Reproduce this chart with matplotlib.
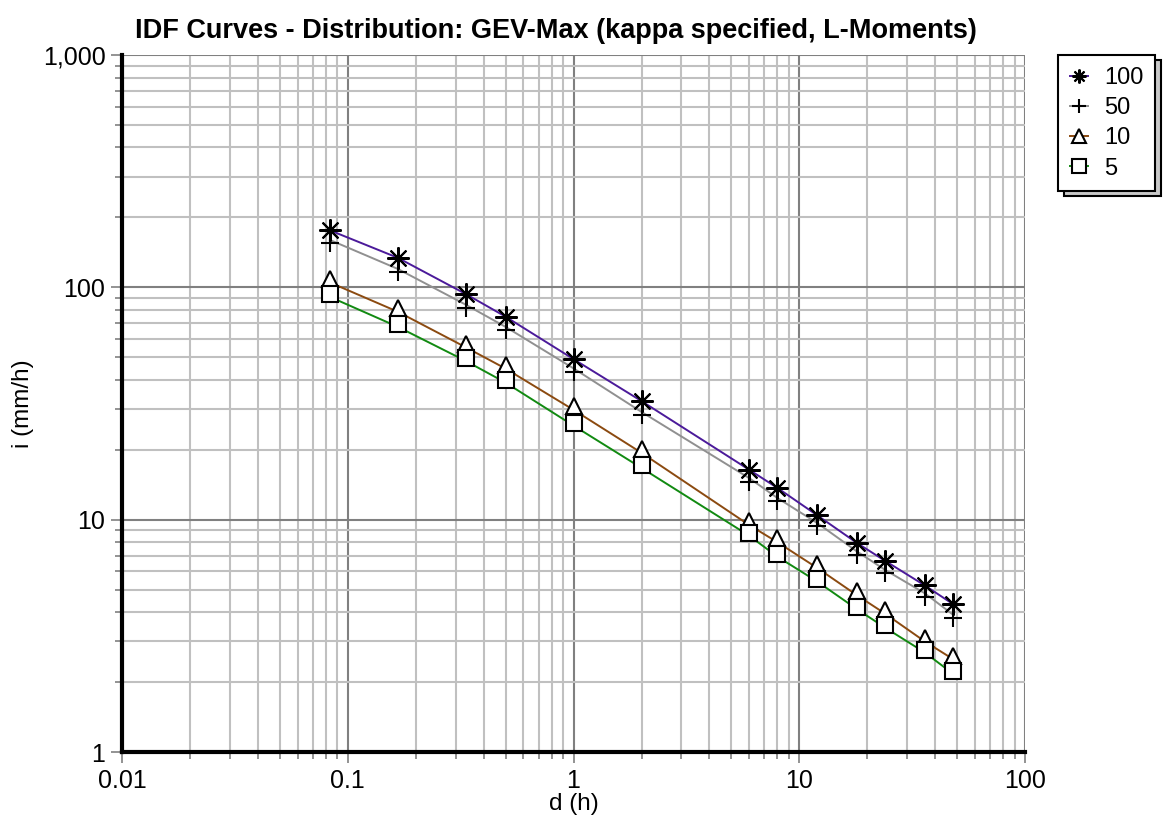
import matplotlib
matplotlib.use('Agg')
import matplotlib.pyplot as plt
from matplotlib.ticker import LogLocator, NullFormatter, FuncFormatter
from matplotlib.lines import Line2D
import matplotlib.patches as mpatches

plt.rcParams['font.family'] = ['Liberation Sans', 'DejaVu Sans']

# durations (h): 5, 10, 20, 30 min, 1, 2, 6, 8, 12, 18, 24, 36, 48 h
durations = [0.0833, 0.1667, 0.3333, 0.5, 1, 2, 6, 8, 12, 18, 24, 36, 48]

# observed points (markers)
pts_100 = [176, 134, 93.6, 74.8, 49.1, 32.4, 16.4, 13.7, 10.45, 7.94, 6.65, 5.21, 4.33]
pts_50 = [155, 116, 81.5, 65.5, 43.4, 28.2, 14.6, 12.0, 9.37, 7.07, 5.89, 4.67, 3.77]
pts_10 = [109, 81.5, 57.3, 46.4, 30.8, 20.1, 9.84, 8.3, 6.44, 4.91, 4.09, 3.10, 2.60]
pts_5 = [93.5, 69.5, 49.5, 40.0, 26.1, 17.2, 8.77, 7.12, 5.57, 4.23, 3.52, 2.75, 2.23]

# fitted IDF curves (lines)
crv_100 = [176, 134, 93.6, 74.8, 49.1, 32.4, 16.4, 13.7, 10.45, 7.94, 6.65, 5.21, 4.33]
crv_50 = [160, 120, 84.2, 67.6, 44.8, 29.1, 15.1, 12.4, 9.68, 7.30, 6.08, 4.82, 3.90]
crv_10 = [105, 78.5, 55.2, 44.7, 29.7, 19.4, 9.48, 8.0, 6.20, 4.73, 3.94, 2.99, 2.51]
crv_5 = [91.0, 67.6, 48.2, 38.9, 25.4, 16.7, 8.53, 6.93, 5.42, 4.12, 3.43, 2.68, 2.17]

labels = ['100', '50', '10', '5']
line_colors = ['#4B1A9A', '#909090', '#8B4A10', '#118A11']

fig = plt.figure(figsize=(11.68, 8.34), dpi=100)
ax = fig.add_axes([0.1045, 0.0983, 0.7731, 0.8357])

series = [
    (crv_100, pts_100, dict(marker=(8, 2, 0), markersize=16, markeredgewidth=1.5)),
    (crv_50, pts_50, dict(marker='+', markersize=13, markeredgewidth=1.5)),
    (crv_10, pts_10, dict(marker='^', markersize=11, markeredgewidth=1.5, markerfacecolor='white')),
    (crv_5, pts_5, dict(marker='s', markersize=11, markeredgewidth=1.5, markerfacecolor='white')),
]

for (crv, pts, mk), col in zip(series, line_colors):
    ax.plot(durations, crv, color=col, lw=1.4, zorder=3)
for (crv, pts, mk), col in zip(series, line_colors):
    ax.plot(durations, pts, linestyle='none', color='black', markeredgecolor='black', zorder=4, **mk)

ax.set_xscale('log')
ax.set_yscale('log')
ax.set_xlim(0.01, 100)
ax.set_ylim(1, 1000)

ax.xaxis.set_major_locator(LogLocator(base=10))
ax.xaxis.set_minor_locator(LogLocator(base=10, subs=range(2, 10)))
ax.yaxis.set_major_locator(LogLocator(base=10))
ax.yaxis.set_minor_locator(LogLocator(base=10, subs=range(2, 10)))
ax.xaxis.set_minor_formatter(NullFormatter())
ax.yaxis.set_minor_formatter(NullFormatter())
ax.xaxis.set_major_formatter(FuncFormatter(lambda v, p: ('%g' % v)))
ax.yaxis.set_major_formatter(FuncFormatter(lambda v, p: '{:,.0f}'.format(v)))

ax.grid(which='minor', color='#C0C0C0', lw=1.5, zorder=0)
ax.grid(which='major', color='#808080', lw=1.5, zorder=1)
ax.set_axisbelow(True)

for s in ['top', 'right']:
    ax.spines[s].set_visible(False)
for s in ['left', 'bottom']:
    ax.spines[s].set_linewidth(3)
    ax.spines[s].set_color('black')

ax.tick_params(which='major', length=8, width=1.2, color='#808080', labelsize=18, pad=4)
ax.tick_params(which='minor', length=5, width=1.2, color='#808080')

ax.set_xlabel('d (h)', fontsize=17.5, labelpad=0)
ax.set_ylabel('i (mm/h)', fontsize=17.5, labelpad=6)
ax.set_title('IDF Curves - Distribution: GEV-Max (kappa specified, L-Moments)',
             fontsize=19.5, fontweight='bold', pad=12, x=0.48)

# legend
handles = []
for (crv, pts, mk), col, lab in zip(series, line_colors, labels):
    handles.append(Line2D([0], [0], color=col, lw=1.4, markeredgecolor='black', **mk))
leg = fig.legend(handles=handles, labels=labels, loc='upper left',
                 bbox_to_anchor=(1058 / 1168, 1 - 55 / 834), fontsize=17,
                 frameon=True, fancybox=False, shadow=False, framealpha=1,
                 handlelength=0.75, handletextpad=0.7, labelspacing=0.35,
                 borderpad=0.5, borderaxespad=0)
leg.get_frame().set_edgecolor('black')
leg.get_frame().set_facecolor('white')
leg.get_frame().set_linewidth(1.5)
for h in leg.legend_handles:
    h.set_markersize(10)
    h.set_markeredgewidth(1.5)

# legend shadow (double border)
fig.canvas.draw()
bb = leg.get_window_extent().transformed(fig.transFigure.inverted())
off_x, off_y = 6 / 1168, 5 / 834
fig.add_artist(mpatches.Rectangle((bb.x0 + off_x, bb.y0 - off_y), bb.width, bb.height,
                                  transform=fig.transFigure, facecolor='#C8C8C8',
                                  edgecolor='black', lw=1.5, zorder=leg.get_zorder() - 1))

fig.savefig('out.png', dpi=100)
